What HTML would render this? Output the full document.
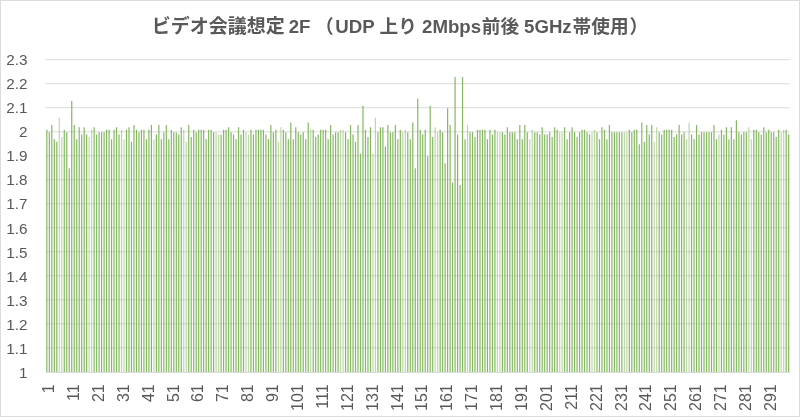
<!DOCTYPE html>
<html lang="ja"><head><meta charset="utf-8"><title>ビデオ会議想定 2F</title>
<style>html,body{margin:0;padding:0;background:#fff;overflow:hidden}svg{display:block}text{font-family:"Liberation Sans","Noto Sans CJK JP",sans-serif;fill:#595959}.t{font-size:18.67px;font-weight:bold}.a{font-size:16px}.y{font-size:15.3px}</style></head><body>
<svg width="800" height="417" viewBox="0 0 800 417">
<rect x="0" y="0" width="800" height="417" fill="#fff"/>
<rect x="0.5" y="0.5" width="799" height="416" fill="none" stroke="#dcdcdc" stroke-width="1"/>
<path d="M45.6 347.88H789.9M45.6 323.87H789.9M45.6 299.85H789.9M45.6 275.84H789.9M45.6 251.82H789.9M45.6 227.81H789.9M45.6 203.79H789.9M45.6 179.78H789.9M45.6 155.76H789.9M45.6 131.75H789.9M45.6 107.73H789.9M45.6 83.72H789.9M45.6 59.71H789.9" stroke="#dcdcdc" stroke-width="1" fill="none"/>
<path d="M46.24 371.9V129.75h1.2V371.9zM48.73 371.9V132.15h1.2V371.9zM51.22 371.9V124.95h1.2V371.9zM53.71 371.9V139.35h1.2V371.9zM56.20 371.9V141.76h1.2V371.9zM63.67 371.9V129.75h1.2V371.9zM66.16 371.9V132.15h1.2V371.9zM68.65 371.9V168.17h1.2V371.9zM71.14 371.9V100.93h1.2V371.9zM73.63 371.9V124.95h1.2V371.9zM76.12 371.9V139.35h1.2V371.9zM78.61 371.9V127.35h1.2V371.9zM81.09 371.9V134.55h1.2V371.9zM83.58 371.9V127.35h1.2V371.9zM86.07 371.9V134.55h1.2V371.9zM93.54 371.9V127.35h1.2V371.9zM96.03 371.9V134.55h1.2V371.9zM98.52 371.9V132.15h1.2V371.9zM101.01 371.9V132.15h1.2V371.9zM103.50 371.9V132.15h1.2V371.9zM105.99 371.9V129.75h1.2V371.9zM108.48 371.9V129.75h1.2V371.9zM110.97 371.9V139.35h1.2V371.9zM113.46 371.9V129.75h1.2V371.9zM115.94 371.9V127.35h1.2V371.9zM118.43 371.9V134.55h1.2V371.9zM125.90 371.9V129.75h1.2V371.9zM128.39 371.9V127.35h1.2V371.9zM130.88 371.9V141.76h1.2V371.9zM133.37 371.9V124.95h1.2V371.9zM135.86 371.9V129.75h1.2V371.9zM138.35 371.9V132.15h1.2V371.9zM140.84 371.9V129.75h1.2V371.9zM143.33 371.9V129.75h1.2V371.9zM145.82 371.9V139.35h1.2V371.9zM148.31 371.9V129.75h1.2V371.9zM150.80 371.9V124.95h1.2V371.9zM155.77 371.9V134.55h1.2V371.9zM158.26 371.9V124.95h1.2V371.9zM160.75 371.9V139.35h1.2V371.9zM163.24 371.9V132.15h1.2V371.9zM165.73 371.9V124.95h1.2V371.9zM168.22 371.9V139.35h1.2V371.9zM170.71 371.9V129.75h1.2V371.9zM173.20 371.9V132.15h1.2V371.9zM175.69 371.9V132.15h1.2V371.9zM178.18 371.9V134.55h1.2V371.9zM180.67 371.9V127.35h1.2V371.9zM188.13 371.9V124.95h1.2V371.9zM190.62 371.9V136.95h1.2V371.9zM193.11 371.9V129.75h1.2V371.9zM195.60 371.9V132.15h1.2V371.9zM198.09 371.9V129.75h1.2V371.9zM200.58 371.9V129.75h1.2V371.9zM203.07 371.9V129.75h1.2V371.9zM205.56 371.9V139.35h1.2V371.9zM208.05 371.9V129.75h1.2V371.9zM210.54 371.9V129.75h1.2V371.9zM213.03 371.9V132.15h1.2V371.9zM220.50 371.9V134.55h1.2V371.9zM222.98 371.9V129.75h1.2V371.9zM225.47 371.9V129.75h1.2V371.9zM227.96 371.9V127.35h1.2V371.9zM230.45 371.9V132.15h1.2V371.9zM232.94 371.9V134.55h1.2V371.9zM235.43 371.9V139.35h1.2V371.9zM237.92 371.9V127.35h1.2V371.9zM240.41 371.9V134.55h1.2V371.9zM242.90 371.9V129.75h1.2V371.9zM250.37 371.9V129.75h1.2V371.9zM252.86 371.9V134.55h1.2V371.9zM255.35 371.9V129.75h1.2V371.9zM257.83 371.9V129.75h1.2V371.9zM260.32 371.9V129.75h1.2V371.9zM262.81 371.9V129.75h1.2V371.9zM265.30 371.9V134.55h1.2V371.9zM267.79 371.9V139.35h1.2V371.9zM270.28 371.9V124.95h1.2V371.9zM272.77 371.9V132.15h1.2V371.9zM275.26 371.9V129.75h1.2V371.9zM282.73 371.9V129.75h1.2V371.9zM285.22 371.9V132.15h1.2V371.9zM287.71 371.9V139.35h1.2V371.9zM290.20 371.9V122.54h1.2V371.9zM292.69 371.9V139.35h1.2V371.9zM295.17 371.9V127.35h1.2V371.9zM297.66 371.9V132.15h1.2V371.9zM300.15 371.9V134.55h1.2V371.9zM302.64 371.9V132.15h1.2V371.9zM305.13 371.9V139.35h1.2V371.9zM307.62 371.9V122.54h1.2V371.9zM312.60 371.9V129.75h1.2V371.9zM315.09 371.9V136.95h1.2V371.9zM317.58 371.9V134.55h1.2V371.9zM320.07 371.9V129.75h1.2V371.9zM322.56 371.9V129.75h1.2V371.9zM325.05 371.9V129.75h1.2V371.9zM327.54 371.9V139.35h1.2V371.9zM330.02 371.9V124.95h1.2V371.9zM332.51 371.9V134.55h1.2V371.9zM335.00 371.9V132.15h1.2V371.9zM337.49 371.9V132.15h1.2V371.9zM344.96 371.9V132.15h1.2V371.9zM347.45 371.9V139.35h1.2V371.9zM349.94 371.9V124.95h1.2V371.9zM352.43 371.9V134.55h1.2V371.9zM354.92 371.9V141.76h1.2V371.9zM357.41 371.9V124.95h1.2V371.9zM359.90 371.9V153.76h1.2V371.9zM362.39 371.9V105.73h1.2V371.9zM364.87 371.9V129.75h1.2V371.9zM367.36 371.9V136.95h1.2V371.9zM369.85 371.9V127.35h1.2V371.9zM377.32 371.9V132.15h1.2V371.9zM379.81 371.9V127.35h1.2V371.9zM382.30 371.9V127.35h1.2V371.9zM384.79 371.9V146.56h1.2V371.9zM387.28 371.9V124.95h1.2V371.9zM389.77 371.9V132.15h1.2V371.9zM392.26 371.9V132.15h1.2V371.9zM394.75 371.9V124.95h1.2V371.9zM397.24 371.9V139.35h1.2V371.9zM399.72 371.9V129.75h1.2V371.9zM407.19 371.9V132.15h1.2V371.9zM409.68 371.9V139.35h1.2V371.9zM412.17 371.9V122.54h1.2V371.9zM414.66 371.9V168.17h1.2V371.9zM417.15 371.9V98.53h1.2V371.9zM419.64 371.9V129.75h1.2V371.9zM422.13 371.9V134.55h1.2V371.9zM424.62 371.9V129.75h1.2V371.9zM427.11 371.9V156.16h1.2V371.9zM429.60 371.9V105.73h1.2V371.9zM432.09 371.9V136.95h1.2V371.9zM439.55 371.9V129.75h1.2V371.9zM442.04 371.9V132.15h1.2V371.9zM444.53 371.9V163.37h1.2V371.9zM447.02 371.9V108.13h1.2V371.9zM449.51 371.9V124.95h1.2V371.9zM452.00 371.9V182.58h1.2V371.9zM454.49 371.9V76.92h1.2V371.9zM456.98 371.9V134.55h1.2V371.9zM459.47 371.9V184.98h1.2V371.9zM461.96 371.9V76.92h1.2V371.9zM464.45 371.9V139.35h1.2V371.9zM469.43 371.9V132.15h1.2V371.9zM471.91 371.9V132.15h1.2V371.9zM474.40 371.9V136.95h1.2V371.9zM476.89 371.9V129.75h1.2V371.9zM479.38 371.9V129.75h1.2V371.9zM481.87 371.9V129.75h1.2V371.9zM484.36 371.9V129.75h1.2V371.9zM486.85 371.9V139.35h1.2V371.9zM489.34 371.9V129.75h1.2V371.9zM491.83 371.9V134.55h1.2V371.9zM494.32 371.9V129.75h1.2V371.9zM501.79 371.9V132.15h1.2V371.9zM504.28 371.9V134.55h1.2V371.9zM506.76 371.9V127.35h1.2V371.9zM509.25 371.9V132.15h1.2V371.9zM511.74 371.9V132.15h1.2V371.9zM514.23 371.9V132.15h1.2V371.9zM516.72 371.9V139.35h1.2V371.9zM519.21 371.9V124.95h1.2V371.9zM521.70 371.9V139.35h1.2V371.9zM524.19 371.9V124.95h1.2V371.9zM526.68 371.9V132.15h1.2V371.9zM534.15 371.9V132.15h1.2V371.9zM536.64 371.9V132.15h1.2V371.9zM539.13 371.9V134.55h1.2V371.9zM541.61 371.9V127.35h1.2V371.9zM544.10 371.9V134.55h1.2V371.9zM546.59 371.9V134.55h1.2V371.9zM549.08 371.9V132.15h1.2V371.9zM551.57 371.9V136.95h1.2V371.9zM554.06 371.9V127.35h1.2V371.9zM556.55 371.9V129.75h1.2V371.9zM564.02 371.9V127.35h1.2V371.9zM566.51 371.9V139.35h1.2V371.9zM569.00 371.9V132.15h1.2V371.9zM571.49 371.9V127.35h1.2V371.9zM573.98 371.9V132.15h1.2V371.9zM576.47 371.9V136.95h1.2V371.9zM578.95 371.9V132.15h1.2V371.9zM581.44 371.9V129.75h1.2V371.9zM583.93 371.9V129.75h1.2V371.9zM586.42 371.9V132.15h1.2V371.9zM588.91 371.9V134.55h1.2V371.9zM596.38 371.9V132.15h1.2V371.9zM598.87 371.9V139.35h1.2V371.9zM601.36 371.9V127.35h1.2V371.9zM603.85 371.9V129.75h1.2V371.9zM606.34 371.9V139.35h1.2V371.9zM608.83 371.9V124.95h1.2V371.9zM611.32 371.9V132.15h1.2V371.9zM613.80 371.9V132.15h1.2V371.9zM616.29 371.9V132.15h1.2V371.9zM618.78 371.9V132.15h1.2V371.9zM621.27 371.9V132.15h1.2V371.9zM628.74 371.9V129.75h1.2V371.9zM631.23 371.9V132.15h1.2V371.9zM633.72 371.9V129.75h1.2V371.9zM636.21 371.9V129.75h1.2V371.9zM638.70 371.9V144.16h1.2V371.9zM641.19 371.9V122.54h1.2V371.9zM643.68 371.9V141.76h1.2V371.9zM646.17 371.9V124.95h1.2V371.9zM648.65 371.9V134.55h1.2V371.9zM651.14 371.9V124.95h1.2V371.9zM658.61 371.9V132.15h1.2V371.9zM661.10 371.9V134.55h1.2V371.9zM663.59 371.9V129.75h1.2V371.9zM666.08 371.9V129.75h1.2V371.9zM668.57 371.9V129.75h1.2V371.9zM671.06 371.9V129.75h1.2V371.9zM673.55 371.9V136.95h1.2V371.9zM676.04 371.9V134.55h1.2V371.9zM678.53 371.9V124.95h1.2V371.9zM681.02 371.9V134.55h1.2V371.9zM683.50 371.9V132.15h1.2V371.9zM690.97 371.9V134.55h1.2V371.9zM693.46 371.9V139.35h1.2V371.9zM695.95 371.9V124.95h1.2V371.9zM698.44 371.9V134.55h1.2V371.9zM700.93 371.9V132.15h1.2V371.9zM703.42 371.9V132.15h1.2V371.9zM705.91 371.9V132.15h1.2V371.9zM708.40 371.9V132.15h1.2V371.9zM710.89 371.9V132.15h1.2V371.9zM713.38 371.9V124.95h1.2V371.9zM715.87 371.9V139.35h1.2V371.9zM720.84 371.9V129.75h1.2V371.9zM723.33 371.9V134.55h1.2V371.9zM725.82 371.9V127.35h1.2V371.9zM728.31 371.9V139.35h1.2V371.9zM730.80 371.9V127.35h1.2V371.9zM733.29 371.9V139.35h1.2V371.9zM735.78 371.9V120.14h1.2V371.9zM738.27 371.9V132.15h1.2V371.9zM740.76 371.9V134.55h1.2V371.9zM743.25 371.9V132.15h1.2V371.9zM745.74 371.9V132.15h1.2V371.9zM753.21 371.9V129.75h1.2V371.9zM755.69 371.9V129.75h1.2V371.9zM758.18 371.9V132.15h1.2V371.9zM760.67 371.9V134.55h1.2V371.9zM763.16 371.9V127.35h1.2V371.9zM765.65 371.9V132.15h1.2V371.9zM768.14 371.9V129.75h1.2V371.9zM770.63 371.9V132.15h1.2V371.9zM773.12 371.9V132.15h1.2V371.9zM775.61 371.9V136.95h1.2V371.9zM778.10 371.9V129.75h1.2V371.9zM785.57 371.9V129.75h1.2V371.9zM788.06 371.9V134.55h1.2V371.9z" fill="#70AD47" fill-opacity="0.86"/>
<path d="M58.69 371.9V117.74h1.2V371.9zM61.18 371.9V136.95h1.2V371.9zM88.56 371.9V136.95h1.2V371.9zM91.05 371.9V129.75h1.2V371.9zM120.92 371.9V129.75h1.2V371.9zM123.41 371.9V139.35h1.2V371.9zM153.28 371.9V139.35h1.2V371.9zM183.16 371.9V129.75h1.2V371.9zM185.65 371.9V141.76h1.2V371.9zM215.52 371.9V132.15h1.2V371.9zM218.01 371.9V134.55h1.2V371.9zM245.39 371.9V132.15h1.2V371.9zM247.88 371.9V134.55h1.2V371.9zM277.75 371.9V141.76h1.2V371.9zM280.24 371.9V127.35h1.2V371.9zM310.11 371.9V129.75h1.2V371.9zM339.98 371.9V129.75h1.2V371.9zM342.47 371.9V129.75h1.2V371.9zM372.34 371.9V153.76h1.2V371.9zM374.83 371.9V117.74h1.2V371.9zM402.21 371.9V132.15h1.2V371.9zM404.70 371.9V129.75h1.2V371.9zM434.58 371.9V127.35h1.2V371.9zM437.06 371.9V132.15h1.2V371.9zM466.94 371.9V124.95h1.2V371.9zM496.81 371.9V132.15h1.2V371.9zM499.30 371.9V132.15h1.2V371.9zM529.17 371.9V139.35h1.2V371.9zM531.66 371.9V129.75h1.2V371.9zM559.04 371.9V132.15h1.2V371.9zM561.53 371.9V132.15h1.2V371.9zM591.40 371.9V132.15h1.2V371.9zM593.89 371.9V129.75h1.2V371.9zM623.76 371.9V132.15h1.2V371.9zM626.25 371.9V132.15h1.2V371.9zM653.63 371.9V141.76h1.2V371.9zM656.12 371.9V127.35h1.2V371.9zM685.99 371.9V139.35h1.2V371.9zM688.48 371.9V122.54h1.2V371.9zM718.36 371.9V134.55h1.2V371.9zM748.23 371.9V127.35h1.2V371.9zM750.72 371.9V139.35h1.2V371.9zM780.59 371.9V132.15h1.2V371.9zM783.08 371.9V129.75h1.2V371.9z" fill="#70AD47" fill-opacity="0.47"/>
<path d="M45.6 372.35H789.9" stroke="#d0d0d0" stroke-width="0.9" fill="none"/>
<text class="y" x="27.6" y="377.60" text-anchor="end">1</text>
<text class="y" x="27.6" y="353.58" text-anchor="end">1.1</text>
<text class="y" x="27.6" y="329.57" text-anchor="end">1.2</text>
<text class="y" x="27.6" y="305.55" text-anchor="end">1.3</text>
<text class="y" x="27.6" y="281.54" text-anchor="end">1.4</text>
<text class="y" x="27.6" y="257.52" text-anchor="end">1.5</text>
<text class="y" x="27.6" y="233.51" text-anchor="end">1.6</text>
<text class="y" x="27.6" y="209.49" text-anchor="end">1.7</text>
<text class="y" x="27.6" y="185.48" text-anchor="end">1.8</text>
<text class="y" x="27.6" y="161.46" text-anchor="end">1.9</text>
<text class="y" x="27.6" y="137.45" text-anchor="end">2</text>
<text class="y" x="27.6" y="113.43" text-anchor="end">2.1</text>
<text class="y" x="27.6" y="89.42" text-anchor="end">2.2</text>
<text class="y" x="27.6" y="65.41" text-anchor="end">2.3</text>
<text class="a" transform="translate(54.04 384.3) rotate(-90)" text-anchor="end">1</text>
<text class="a" transform="translate(78.94 384.3) rotate(-90)" text-anchor="end">11</text>
<text class="a" transform="translate(103.83 384.3) rotate(-90)" text-anchor="end">21</text>
<text class="a" transform="translate(128.72 384.3) rotate(-90)" text-anchor="end">31</text>
<text class="a" transform="translate(153.62 384.3) rotate(-90)" text-anchor="end">41</text>
<text class="a" transform="translate(178.51 384.3) rotate(-90)" text-anchor="end">51</text>
<text class="a" transform="translate(203.40 384.3) rotate(-90)" text-anchor="end">61</text>
<text class="a" transform="translate(228.30 384.3) rotate(-90)" text-anchor="end">71</text>
<text class="a" transform="translate(253.19 384.3) rotate(-90)" text-anchor="end">81</text>
<text class="a" transform="translate(278.08 384.3) rotate(-90)" text-anchor="end">91</text>
<text class="a" transform="translate(302.97 384.3) rotate(-90)" text-anchor="end">101</text>
<text class="a" transform="translate(327.87 384.3) rotate(-90)" text-anchor="end">111</text>
<text class="a" transform="translate(352.76 384.3) rotate(-90)" text-anchor="end">121</text>
<text class="a" transform="translate(377.65 384.3) rotate(-90)" text-anchor="end">131</text>
<text class="a" transform="translate(402.55 384.3) rotate(-90)" text-anchor="end">141</text>
<text class="a" transform="translate(427.44 384.3) rotate(-90)" text-anchor="end">151</text>
<text class="a" transform="translate(452.33 384.3) rotate(-90)" text-anchor="end">161</text>
<text class="a" transform="translate(477.23 384.3) rotate(-90)" text-anchor="end">171</text>
<text class="a" transform="translate(502.12 384.3) rotate(-90)" text-anchor="end">181</text>
<text class="a" transform="translate(527.01 384.3) rotate(-90)" text-anchor="end">191</text>
<text class="a" transform="translate(551.90 384.3) rotate(-90)" text-anchor="end">201</text>
<text class="a" transform="translate(576.80 384.3) rotate(-90)" text-anchor="end">211</text>
<text class="a" transform="translate(601.69 384.3) rotate(-90)" text-anchor="end">221</text>
<text class="a" transform="translate(626.58 384.3) rotate(-90)" text-anchor="end">231</text>
<text class="a" transform="translate(651.48 384.3) rotate(-90)" text-anchor="end">241</text>
<text class="a" transform="translate(676.37 384.3) rotate(-90)" text-anchor="end">251</text>
<text class="a" transform="translate(701.26 384.3) rotate(-90)" text-anchor="end">261</text>
<text class="a" transform="translate(726.16 384.3) rotate(-90)" text-anchor="end">271</text>
<text class="a" transform="translate(751.05 384.3) rotate(-90)" text-anchor="end">281</text>
<text class="a" transform="translate(775.94 384.3) rotate(-90)" text-anchor="end">291</text>
<text class="t" y="33.2" xml:space="preserve"><tspan x="151.7" style="font-size:19px">ビデオ会議想定 </tspan><tspan x="288.7">2F </tspan><tspan x="315.1">（</tspan><tspan x="335.2">UDP </tspan><tspan x="379.6">上り </tspan><tspan x="422">2Mbps</tspan><tspan x="481.8">前後 </tspan><tspan x="524.0">5GHz</tspan><tspan x="572.6">帯使用</tspan><tspan x="629.4">）</tspan></text>
</svg></body></html>
